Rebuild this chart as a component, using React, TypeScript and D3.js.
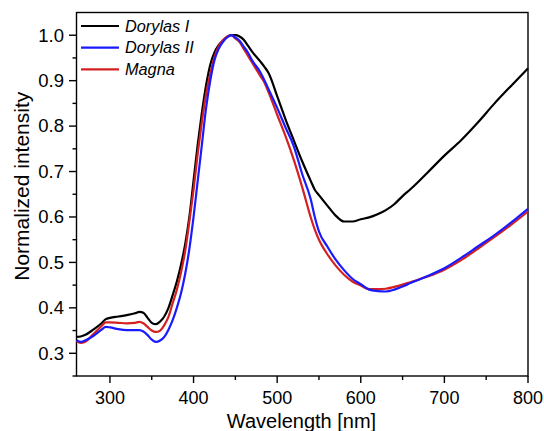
import { useEffect, useRef } from 'react'
import * as d3 from 'd3'

const W = 544
const H = 431

const wavelengths = [
  260, 265, 270, 280, 290, 295, 300, 310, 320, 330, 335, 340, 345, 350, 355, 360, 365, 370, 375, 380,
  385, 390, 395, 400, 405, 410, 415, 420, 425, 430, 435, 440, 445, 450, 455, 460, 465, 470, 480, 485,
  490, 500, 510, 520, 530, 540, 545, 550, 560, 570, 580, 590, 600, 610, 620, 630, 640, 650, 660, 680,
  700, 720, 740, 760, 780, 800,
]

const dorylasI = [
  0.336, 0.337, 0.340, 0.352, 0.366, 0.375, 0.378, 0.381, 0.384, 0.388, 0.391, 0.389, 0.378, 0.367, 0.364, 0.370, 0.381, 0.400, 0.428, 0.458,
  0.495, 0.540, 0.600, 0.680, 0.760, 0.830, 0.890, 0.935, 0.962, 0.978, 0.988, 0.996, 1.000, 1.000, 0.997, 0.990, 0.977, 0.964, 0.942, 0.930,
  0.916, 0.866, 0.815, 0.768, 0.722, 0.680, 0.660, 0.648, 0.625, 0.603, 0.590, 0.590, 0.595, 0.599, 0.606, 0.615, 0.628, 0.646, 0.662, 0.698,
  0.735, 0.769, 0.808, 0.850, 0.889, 0.927,
]

const dorylasII = [
  0.329, 0.325, 0.328, 0.338, 0.352, 0.358, 0.357, 0.353, 0.351, 0.351, 0.351, 0.348, 0.340, 0.330, 0.325, 0.328, 0.336, 0.352, 0.373, 0.400,
  0.432, 0.475, 0.530, 0.600, 0.680, 0.760, 0.840, 0.900, 0.945, 0.970, 0.985, 0.995, 1.000, 0.995, 0.988, 0.975, 0.962, 0.945, 0.918, 0.900,
  0.880, 0.840, 0.797, 0.755, 0.694, 0.640, 0.600, 0.568, 0.535, 0.506, 0.483, 0.464, 0.452, 0.440, 0.437, 0.436, 0.440, 0.447, 0.455, 0.470,
  0.487, 0.510, 0.535, 0.560, 0.588, 0.618,
]

const magna = [
  0.327, 0.323, 0.325, 0.342, 0.360, 0.368, 0.368, 0.367, 0.366, 0.367, 0.369, 0.366, 0.358, 0.350, 0.347, 0.350, 0.362, 0.380, 0.410, 0.440,
  0.478, 0.525, 0.590, 0.660, 0.740, 0.810, 0.870, 0.915, 0.952, 0.975, 0.989, 0.997, 1.000, 0.993, 0.985, 0.970, 0.955, 0.940, 0.910, 0.895,
  0.873, 0.825, 0.778, 0.725, 0.665, 0.600, 0.572, 0.550, 0.518, 0.493, 0.473, 0.458, 0.449, 0.441, 0.441, 0.442, 0.446, 0.451, 0.457, 0.469,
  0.484, 0.505, 0.530, 0.556, 0.583, 0.612,
]

const seriesNames = ['Dorylas I', 'Dorylas II', 'Magna']
const seriesColors = ['#000000', '#1a1aff', '#d42020']
const seriesValues = [dorylasI, dorylasII, magna]
const drawOrder = [0, 2, 1]

const xTicks = [300, 400, 500, 600, 700, 800]
const yTicks = [0.3, 0.4, 0.5, 0.6, 0.7, 0.8, 0.9, 1.0]

const FONT = 'Liberation Sans, Arial, sans-serif'

export default function App() {
  const svgRef = useRef<SVGSVGElement>(null)

  useEffect(() => {
    document.body.style.margin = '0'
    const svg = d3.select(svgRef.current)
    svg.selectAll('*').remove()

    const m = { left: 76.5, right: 528, top: 12.5, bottom: 376 }
    const x = d3.scaleLinear().domain([260, 800]).range([m.left, m.right])
    const y = d3.scaleLinear().domain([0.25, 1.05]).range([m.bottom, m.top])

    // frame
    svg.append('rect')
      .attr('x', m.left).attr('y', m.top)
      .attr('width', m.right - m.left).attr('height', m.bottom - m.top)
      .attr('fill', 'none').attr('stroke', '#000').attr('stroke-width', 1.4)

    // ── x axis ──
    const xMinor = d3.range(300, 801, 50)
    svg.append('g').selectAll('line').data(xMinor).join('line')
      .attr('x1', d => x(d)).attr('x2', d => x(d))
      .attr('y1', m.bottom).attr('y2', d => m.bottom + (d % 100 === 0 ? 7 : 4))
      .attr('stroke', '#000').attr('stroke-width', 1.4)
    svg.append('g').selectAll('text').data(xTicks).join('text')
      .attr('x', d => x(d)).attr('y', 403.5)
      .attr('text-anchor', 'middle').attr('font-family', FONT).attr('font-size', 18)
      .text(d => d)

    // ── y axis ──
    const yMinor = d3.range(0, 16).map(i => 0.25 + i * 0.05).filter(v => v <= 1.051)
    svg.append('g').selectAll('line').data(yMinor).join('line')
      .attr('y1', d => y(d)).attr('y2', d => y(d))
      .attr('x1', m.left).attr('x2', (_, i) => m.left - (i % 2 === 1 ? 7.5 : 4))
      .attr('stroke', '#000').attr('stroke-width', 1.4)
    svg.append('g').selectAll('text').data(yTicks).join('text')
      .attr('x', 64).attr('y', d => y(d) + 6.3)
      .attr('text-anchor', 'end').attr('font-family', FONT).attr('font-size', 18.5)
      .text(d => d.toFixed(1))

    // axis titles
    svg.append('text')
      .attr('transform', `translate(28.5,${(m.top + m.bottom) / 2 - 8}) rotate(-90)`)
      .attr('text-anchor', 'middle').attr('font-family', FONT).attr('font-size', 21)
      .text('Normalized intensity')
    svg.append('text')
      .attr('x', 301.5).attr('y', 428)
      .attr('text-anchor', 'middle').attr('font-family', FONT).attr('font-size', 20)
      .text('Wavelength [nm]')

    // ── curves ──
    const line = d3.line<number>()
      .x((_, i) => x(wavelengths[i]))
      .y(d => y(d))
      .curve(d3.curveMonotoneX)

    drawOrder.forEach(i => {
      svg.append('path')
        .datum(seriesValues[i])
        .attr('d', line)
        .attr('fill', 'none')
        .attr('stroke', seriesColors[i])
        .attr('stroke-width', 2.2)
        .attr('stroke-linejoin', 'round')
    })

    // ── legend ──
    const lg = svg.append('g')
    seriesNames.forEach((name, i) => {
      const ly = 26 + i * 21.7
      lg.append('line')
        .attr('x1', 81).attr('x2', 119).attr('y1', ly).attr('y2', ly)
        .attr('stroke', seriesColors[i]).attr('stroke-width', 2.2)
      lg.append('text')
        .attr('x', 125).attr('y', ly + 5.7)
        .attr('font-family', FONT).attr('font-size', 16.3).attr('font-style', 'italic')
        .text(name)
    })
  }, [])

  return <svg ref={svgRef} width={W} height={H} style={{ display: 'block', background: '#fff' }} />
}
